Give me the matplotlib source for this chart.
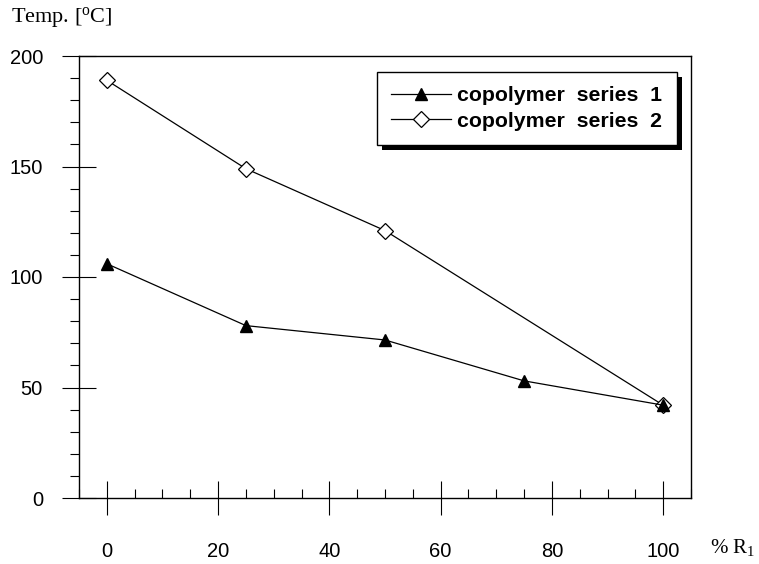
import matplotlib
matplotlib.use("Agg")
import matplotlib.pyplot as plt
from matplotlib.ticker import MultipleLocator
from matplotlib.patches import Rectangle

plt.rcParams["mathtext.fontset"] = "custom"
plt.rcParams["mathtext.rm"] = "Liberation Serif"
plt.rcParams["mathtext.it"] = "Liberation Serif:italic"
plt.rcParams["mathtext.bf"] = "Liberation Serif:bold"

x1 = [0, 25, 50, 75, 100]
y1 = [106, 78, 71.5, 53, 42]
x2 = [0, 25, 50, 100]
y2 = [189, 149, 121, 42]
labels = ["copolymer  series  1", "copolymer  series  2"]
xticks = [0, 20, 40, 60, 80, 100]
yticks = [0, 50, 100, 150, 200]

W, H = 759, 564
fig = plt.figure(figsize=(W/100, H/100), dpi=100)
ax = fig.add_axes([79/W, 1-498/H, (691-79)/W, (498-56)/H])

ax.plot(x2, y2, color="black", lw=0.9, marker="D", ms=8, mfc="white", mec="black", mew=0.9, label=labels[1], zorder=2)
ax.plot(x1, y1, color="black", lw=0.9, marker="^", ms=8.5, mfc="black", mec="black", label=labels[0], zorder=3)

ax.set_xlim(-5, 105)
ax.set_ylim(0, 200)
ax.set_xticks(xticks)
ax.set_yticks(yticks)
ax.xaxis.set_minor_locator(MultipleLocator(5))
ax.yaxis.set_minor_locator(MultipleLocator(10))

for s in ax.spines.values():
    s.set_linewidth(1.0)
    s.set_color("black")

ax.tick_params(axis="x", which="major", direction="inout", length=24, width=0.8, pad=20, labelsize=14.5)
ax.tick_params(axis="x", which="minor", direction="in", length=6.5, width=0.8)
ax.tick_params(axis="y", which="major", direction="inout", length=24, width=0.8, pad=14, labelsize=14.5)
ax.tick_params(axis="y", which="minor", direction="out", length=6.5, width=0.8)
for lab in ax.get_xticklabels() + ax.get_yticklabels():
    lab.set_family("Liberation Sans")

fig.text(11/W, 1-18/H, "Temp. [$^{\\mathrm{o}}$C]", family="Liberation Serif", fontsize=16, va="center", ha="left")
fig.text(710/W, 1-548/H, "% R$_{\\mathrm{1}}$", family="Liberation Serif", fontsize=15, va="center", ha="left")

h, l = ax.get_legend_handles_labels()
leg = ax.legend(h[::-1], l[::-1], loc="upper left",
                bbox_to_anchor=((377-79)/612, (498-72)/442), frameon=True,
                fancybox=False, shadow=False, framealpha=1,
                prop={"family": "Liberation Sans", "weight": "bold", "size": 15.3},
                handlelength=2.8, borderpad=0.68, labelspacing=0.3, handletextpad=0.3, borderaxespad=0)
leg.get_frame().set_edgecolor("black")
leg.get_frame().set_linewidth(1.0)
leg.set_zorder(6)

fig.canvas.draw()
bb = leg.get_window_extent()
inv = ax.transAxes.inverted()
off = 5
(x0, y0) = inv.transform((bb.x0 + off, bb.y0 - off))
(x1b, y1b) = inv.transform((bb.x1 + off, bb.y1 - off))
ax.add_patch(Rectangle((x0, y0), x1b - x0, y1b - y0, transform=ax.transAxes,
                       facecolor="black", edgecolor="none", zorder=5.5, clip_on=False))

fig.savefig("out.png", dpi=100)
